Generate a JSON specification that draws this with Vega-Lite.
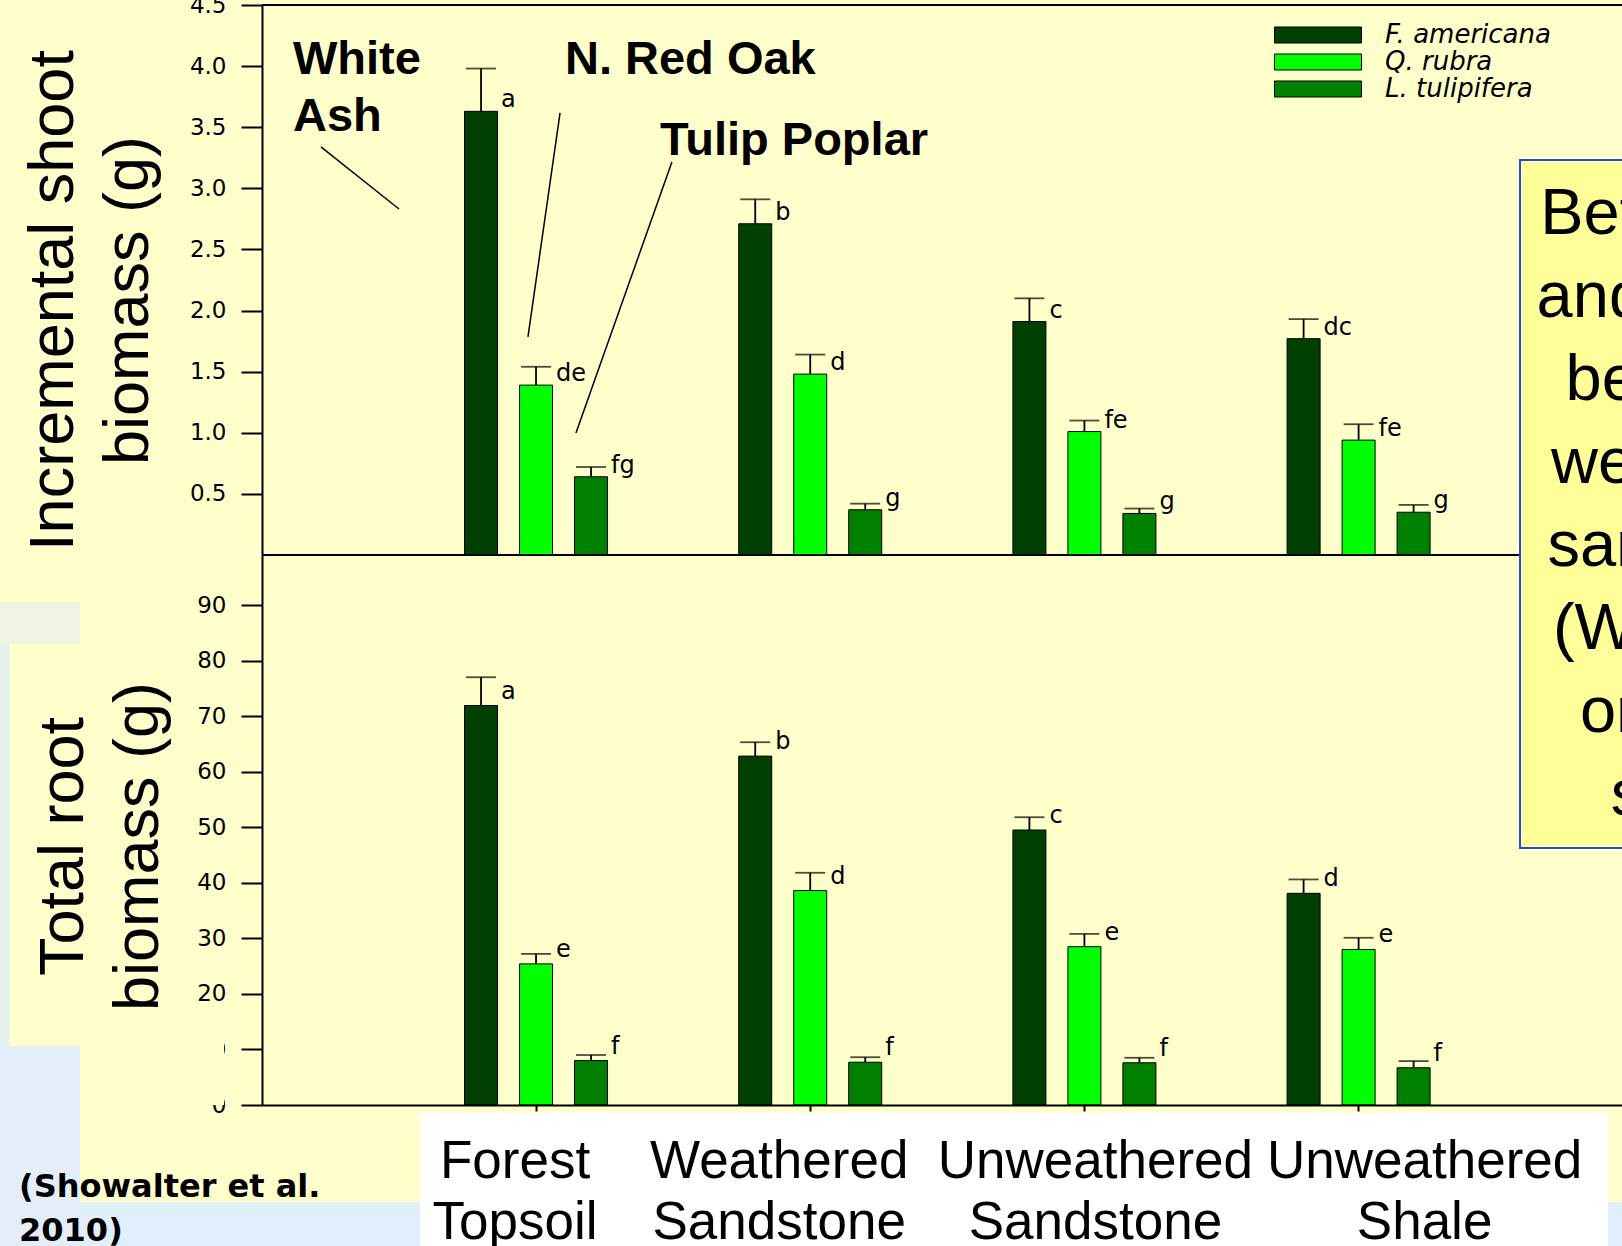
{
  "$schema": "https://vega.github.io/schema/vega-lite/v6.json",
  "autosize": {"type": "none"},
  "width": 1360,
  "height": 1100,
  "padding": {"left": 262, "top": 5, "right": 0, "bottom": 141},
  "background": "#FFFFCC",
  "config": {"view": {"stroke": null}, "font": "Liberation Sans"},
  "resolve": {"scale": {"x": "independent", "y": "independent", "xOffset": "independent"}},
  "layer": [
    {
      "data": {"values": [{}]},
      "layer": [
        {"mark": {"type": "rect", "fill": "#EEF3E2"},
         "encoding": {"x": {"datum": -1.0, "type": "quantitative", "scale": {"domain": [0, 4.96], "nice": false, "zero": false}, "axis": null}, "x2": {"datum": -0.6638},
                      "y": {"datum": 90.53, "type": "quantitative", "scale": {"domain": [0, 198], "nice": false, "zero": false}, "axis": null}, "y2": {"datum": 82.97}}},
        {"mark": {"type": "rect", "fill": "#E8F1EE"},
         "encoding": {"x": {"datum": -1.0, "type": "quantitative", "scale": {"domain": [0, 4.96], "nice": false, "zero": false}, "axis": null}, "x2": {"datum": -0.919},
                      "y": {"datum": 82.97, "type": "quantitative", "scale": {"domain": [0, 198], "nice": false, "zero": false}, "axis": null}, "y2": {"datum": 10.62}}},
        {"mark": {"type": "rect", "fill": "#E3EEF8"},
         "encoding": {"x": {"datum": -1.0, "type": "quantitative", "scale": {"domain": [0, 4.96], "nice": false, "zero": false}, "axis": null}, "x2": {"datum": -0.6638},
                      "y": {"datum": 10.62, "type": "quantitative", "scale": {"domain": [0, 198], "nice": false, "zero": false}, "axis": null}, "y2": {"datum": -30}}},
        {"mark": {"type": "rect", "fill": "#E1EEFC"},
         "encoding": {"x": {"datum": -0.6638, "type": "quantitative", "scale": {"domain": [0, 4.96], "nice": false, "zero": false}, "axis": null}, "x2": {"datum": 5.2},
                      "y": {"datum": -17.46, "type": "quantitative", "scale": {"domain": [0, 198], "nice": false, "zero": false}, "axis": null}, "y2": {"datum": -30}}},
        {"mark": {"type": "rect", "fill": "#FFFFFF"},
         "encoding": {"x": {"datum": 0.5762, "type": "quantitative", "scale": {"domain": [0, 4.96], "nice": false, "zero": false}, "axis": null}, "x2": {"datum": 4.909},
                      "y": {"datum": -1.44, "type": "quantitative", "scale": {"domain": [0, 198], "nice": false, "zero": false}, "axis": null}, "y2": {"datum": -30}}},
        {"mark": {"type": "rect", "fill": "#FFFFCC"},
         "encoding": {"x": {"datum": -0.6638, "type": "quantitative", "scale": {"domain": [0, 4.96], "nice": false, "zero": false}, "axis": null}, "x2": {"datum": -0.1386},
                      "y": {"datum": 17.46, "type": "quantitative", "scale": {"domain": [0, 198], "nice": false, "zero": false}, "axis": null}, "y2": {"datum": 0}}},
        {"mark": {"type": "text", "text": ["(Showalter et al.", "2010)"], "font": "DejaVu Sans", "fontWeight": "bold", "fontSize": 32, "lineHeight": 44, "align": "left", "baseline": "alphabetic", "color": "black"},
         "encoding": {"x": {"datum": -0.886, "type": "quantitative", "scale": {"domain": [0, 4.96], "nice": false, "zero": false}, "axis": null},
                      "y": {"datum": -16.56, "type": "quantitative", "scale": {"domain": [0, 198], "nice": false, "zero": false}, "axis": null}}}
      ]
    },
    {
      "data": {"values": [
        {"soil": "Forest Topsoil", "species": "F. americana", "mean": 3.63, "upper": 3.98, "letter": "a"},
        {"soil": "Forest Topsoil", "species": "Q. rubra", "mean": 1.39, "upper": 1.54, "letter": "de"},
        {"soil": "Forest Topsoil", "species": "L. tulipifera", "mean": 0.64, "upper": 0.72, "letter": "fg"},
        {"soil": "Weathered Sandstone", "species": "F. americana", "mean": 2.71, "upper": 2.91, "letter": "b"},
        {"soil": "Weathered Sandstone", "species": "Q. rubra", "mean": 1.48, "upper": 1.64, "letter": "d"},
        {"soil": "Weathered Sandstone", "species": "L. tulipifera", "mean": 0.37, "upper": 0.42, "letter": "g"},
        {"soil": "Unweathered Sandstone", "species": "F. americana", "mean": 1.91, "upper": 2.10, "letter": "c"},
        {"soil": "Unweathered Sandstone", "species": "Q. rubra", "mean": 1.01, "upper": 1.10, "letter": "fe"},
        {"soil": "Unweathered Sandstone", "species": "L. tulipifera", "mean": 0.34, "upper": 0.38, "letter": "g"},
        {"soil": "Unweathered Shale", "species": "F. americana", "mean": 1.77, "upper": 1.93, "letter": "dc"},
        {"soil": "Unweathered Shale", "species": "Q. rubra", "mean": 0.94, "upper": 1.07, "letter": "fe"},
        {"soil": "Unweathered Shale", "species": "L. tulipifera", "mean": 0.35, "upper": 0.41, "letter": "g"}
      ]},
      "encoding": {
        "x": {"field": "soil", "type": "nominal", "sort": ["Forest Topsoil", "Weathered Sandstone", "Unweathered Sandstone", "Unweathered Shale"],
              "scale": {"paddingInner": 0.0773, "paddingOuter": 0.5187, "align": 0.5187}, "axis": null},
        "xOffset": {"field": "species", "type": "nominal", "sort": ["F. americana", "Q. rubra", "L. tulipifera"], "scale": {"paddingInner": 0.4, "paddingOuter": 1}},
        "y": {"field": "mean", "type": "quantitative", "scale": {"domain": [-4.5, 4.5], "nice": false, "zero": false},
              "axis": {"orient": "left", "values": [0.5, 1, 1.5, 2, 2.5, 3, 3.5, 4, 4.5], "format": ".1f",
                       "domain": true, "domainColor": "black", "domainWidth": 2, "ticks": true, "tickSize": 21, "tickWidth": 2, "tickColor": "black",
                       "labelFont": "DejaVu Sans", "labelFontSize": 23, "labelColor": "black", "labelPadding": 15, "grid": false,
                       "title": ["Incremental shoot", "biomass (g)"], "titleFont": "Liberation Sans", "titleFontSize": 63, "titleFontWeight": "normal",
                       "titleColor": "black", "titleLineHeight": 75, "titleAngle": 270, "titleAlign": "center", "titleBaseline": "alphabetic",
                       "titleX": -190, "titleY": 295, "zindex": 0}}
      },
      "layer": [
        {"mark": {"type": "bar", "stroke": "black", "strokeWidth": 1},
         "encoding": {"color": {"field": "species", "type": "nominal",
                                "scale": {"domain": ["F. americana", "Q. rubra", "L. tulipifera"], "range": ["#004000", "#00FF00", "#008000"]},
                                "legend": {"orient": "none", "legendX": 1043, "legendY": 17, "title": null, "direction": "vertical",
                                           "symbolType": "M-5,-0.92H5V0.92H-5Z", "symbolSize": 303, "symbolStrokeColor": "black", "symbolStrokeWidth": 1, "symbolOpacity": 1,
                                           "labelFont": "DejaVu Sans", "labelFontStyle": "italic", "labelFontSize": 26, "labelColor": "black", "labelOffset": 54,
                                           "rowPadding": 1, "padding": 0, "labelLimit": 0}}}},
        {"mark": {"type": "rule", "color": "black", "strokeWidth": 1.8}, "encoding": {"y2": {"field": "upper"}}},
        {"mark": {"type": "tick", "color": "black", "thickness": 1.8, "size": 30},
         "encoding": {"y": {"field": "upper", "type": "quantitative", "scale": {"domain": [-4.5, 4.5], "nice": false, "zero": false},
              "axis": {"orient": "left", "values": [0.5, 1, 1.5, 2, 2.5, 3, 3.5, 4, 4.5], "format": ".1f",
                       "domain": true, "domainColor": "black", "domainWidth": 2, "ticks": true, "tickSize": 21, "tickWidth": 2, "tickColor": "black",
                       "labelFont": "DejaVu Sans", "labelFontSize": 23, "labelColor": "black", "labelPadding": 15, "grid": false,
                       "title": ["Incremental shoot", "biomass (g)"], "titleFont": "Liberation Sans", "titleFontSize": 63, "titleFontWeight": "normal",
                       "titleColor": "black", "titleLineHeight": 75, "titleAngle": 270, "titleAlign": "center", "titleBaseline": "alphabetic",
                       "titleX": -190, "titleY": 295, "zindex": 0}}}},
        {"mark": {"type": "text", "align": "left", "baseline": "alphabetic", "dx": 20, "dy": -4, "font": "DejaVu Sans", "fontSize": 24, "color": "black"},
         "encoding": {"text": {"field": "letter"}}}
      ]
    },
    {
      "data": {"values": [
        {"soil": "Forest Topsoil", "species": "F. americana", "mean": 71.9, "upper": 77.0, "letter": "a"},
        {"soil": "Forest Topsoil", "species": "Q. rubra", "mean": 25.4, "upper": 27.2, "letter": "e"},
        {"soil": "Forest Topsoil", "species": "L. tulipifera", "mean": 8.0, "upper": 9.0, "letter": "f"},
        {"soil": "Weathered Sandstone", "species": "F. americana", "mean": 62.8, "upper": 65.3, "letter": "b"},
        {"soil": "Weathered Sandstone", "species": "Q. rubra", "mean": 38.6, "upper": 41.8, "letter": "d"},
        {"soil": "Weathered Sandstone", "species": "L. tulipifera", "mean": 7.7, "upper": 8.6, "letter": "f"},
        {"soil": "Unweathered Sandstone", "species": "F. americana", "mean": 49.5, "upper": 51.8, "letter": "c"},
        {"soil": "Unweathered Sandstone", "species": "Q. rubra", "mean": 28.5, "upper": 30.8, "letter": "e"},
        {"soil": "Unweathered Sandstone", "species": "L. tulipifera", "mean": 7.6, "upper": 8.5, "letter": "f"},
        {"soil": "Unweathered Shale", "species": "F. americana", "mean": 38.1, "upper": 40.6, "letter": "d"},
        {"soil": "Unweathered Shale", "species": "Q. rubra", "mean": 28.0, "upper": 30.1, "letter": "e"},
        {"soil": "Unweathered Shale", "species": "L. tulipifera", "mean": 6.7, "upper": 7.9, "letter": "f"}
      ]},
      "encoding": {
        "x": {"field": "soil", "type": "nominal", "sort": ["Forest Topsoil", "Weathered Sandstone", "Unweathered Sandstone", "Unweathered Shale"],
              "scale": {"paddingInner": 0.0773, "paddingOuter": 0.5187, "align": 0.5187},
              "axis": {"orient": "bottom", "title": null, "domain": true, "domainColor": "black", "domainWidth": 2, "ticks": true, "tickSize": 6, "tickWidth": 2, "tickColor": "black",
                       "labelFont": "Liberation Sans", "labelFontSize": 53, "labelLineHeight": 61, "labelColor": "black", "labelPadding": 24, "labelAngle": 0,
                       "labelExpr": "split(datum.label, ' ')", "labelOverlap": false, "labelBound": false, "labelLimit": 0, "labelAlign": "center", "labelBaseline": "top",
                       "labelOffset": {"condition": [{"test": "datum.value === 'Forest Topsoil'", "value": -21}, {"test": "datum.value === 'Weathered Sandstone'", "value": -31}, {"test": "datum.value === 'Unweathered Shale'", "value": 66}], "value": 11},
                       "grid": false, "zindex": 1}},
        "xOffset": {"field": "species", "type": "nominal", "sort": ["F. americana", "Q. rubra", "L. tulipifera"], "scale": {"paddingInner": 0.4, "paddingOuter": 1}},
        "y": {"field": "mean", "type": "quantitative", "scale": {"domain": [0, 198], "nice": false, "zero": false},
              "axis": {"orient": "left", "values": [0, 10, 20, 30, 40, 50, 60, 70, 80, 90], "format": "d",
                       "domain": false, "ticks": true, "tickSize": 21, "tickWidth": 2, "tickColor": "black",
                       "labelFont": "DejaVu Sans", "labelFontSize": 23, "labelColor": "black", "labelPadding": 15, "grid": false,
                       "title": ["Total root", "biomass (g)"], "titleFont": "Liberation Sans", "titleFontSize": 63, "titleFontWeight": "normal",
                       "titleColor": "black", "titleLineHeight": 75, "titleAngle": 270, "titleAlign": "center", "titleBaseline": "alphabetic",
                       "titleX": -180, "titleY": 841, "zindex": 0}}
      },
      "layer": [
        {"mark": {"type": "bar", "stroke": "black", "strokeWidth": 1},
         "encoding": {"color": {"field": "species", "type": "nominal",
                                "scale": {"domain": ["F. americana", "Q. rubra", "L. tulipifera"], "range": ["#004000", "#00FF00", "#008000"]},
                                "legend": {"orient": "none", "legendX": 1043, "legendY": 17, "title": null, "direction": "vertical",
                                           "symbolType": "M-5,-0.92H5V0.92H-5Z", "symbolSize": 303, "symbolStrokeColor": "black", "symbolStrokeWidth": 1, "symbolOpacity": 1,
                                           "labelFont": "DejaVu Sans", "labelFontStyle": "italic", "labelFontSize": 26, "labelColor": "black", "labelOffset": 54,
                                           "rowPadding": 1, "padding": 0, "labelLimit": 0}}}},
        {"mark": {"type": "rule", "color": "black", "strokeWidth": 1.8}, "encoding": {"y2": {"field": "upper"}}},
        {"mark": {"type": "tick", "color": "black", "thickness": 1.8, "size": 30},
         "encoding": {"y": {"field": "upper", "type": "quantitative", "scale": {"domain": [0, 198], "nice": false, "zero": false},
              "axis": {"orient": "left", "values": [0, 10, 20, 30, 40, 50, 60, 70, 80, 90], "format": "d",
                       "domain": false, "ticks": true, "tickSize": 21, "tickWidth": 2, "tickColor": "black",
                       "labelFont": "DejaVu Sans", "labelFontSize": 23, "labelColor": "black", "labelPadding": 15, "grid": false,
                       "title": ["Total root", "biomass (g)"], "titleFont": "Liberation Sans", "titleFontSize": 63, "titleFontWeight": "normal",
                       "titleColor": "black", "titleLineHeight": 75, "titleAngle": 270, "titleAlign": "center", "titleBaseline": "alphabetic",
                       "titleX": -180, "titleY": 841, "zindex": 0}}}},
        {"mark": {"type": "text", "align": "left", "baseline": "alphabetic", "dx": 20, "dy": -7, "font": "DejaVu Sans", "fontSize": 24, "color": "black"},
         "encoding": {"text": {"field": "letter"}}}
      ]
    },
    {
      "data": {"values": [{}]},
      "layer": [
        {"mark": {"type": "rule", "color": "black", "strokeWidth": 2},
         "encoding": {"y": {"datum": 4.5, "type": "quantitative", "scale": {"domain": [-4.5, 4.5], "nice": false, "zero": false}, "axis": null}}},
        {"mark": {"type": "rule", "color": "black", "strokeWidth": 2},
         "encoding": {"y": {"datum": 0, "type": "quantitative", "scale": {"domain": [-4.5, 4.5], "nice": false, "zero": false}, "axis": null}}},
        {"mark": {"type": "text", "text": ["White", "Ash"], "font": "Liberation Sans", "fontWeight": "bold", "fontSize": 47, "lineHeight": 57, "align": "left", "baseline": "alphabetic", "color": "black"},
         "encoding": {"x": {"datum": 0.113, "type": "quantitative", "scale": {"domain": [0, 4.96], "nice": false, "zero": false}, "axis": null},
                      "y": {"datum": 3.932, "type": "quantitative", "scale": {"domain": [-4.5, 4.5], "nice": false, "zero": false}, "axis": null}}},
        {"mark": {"type": "text", "text": "N. Red Oak", "font": "Liberation Sans", "fontWeight": "bold", "fontSize": 47, "align": "left", "baseline": "alphabetic", "color": "black"},
         "encoding": {"x": {"datum": 1.105, "type": "quantitative", "scale": {"domain": [0, 4.96], "nice": false, "zero": false}, "axis": null},
                      "y": {"datum": 3.932, "type": "quantitative", "scale": {"domain": [-4.5, 4.5], "nice": false, "zero": false}, "axis": null}}},
        {"mark": {"type": "text", "text": "Tulip Poplar", "font": "Liberation Sans", "fontWeight": "bold", "fontSize": 47, "align": "left", "baseline": "alphabetic", "color": "black"},
         "encoding": {"x": {"datum": 1.4515, "type": "quantitative", "scale": {"domain": [0, 4.96], "nice": false, "zero": false}, "axis": null},
                      "y": {"datum": 3.273, "type": "quantitative", "scale": {"domain": [-4.5, 4.5], "nice": false, "zero": false}, "axis": null}}},
        {"mark": {"type": "rule", "color": "black", "strokeWidth": 1.5},
         "encoding": {"x": {"datum": 0.215, "type": "quantitative", "scale": {"domain": [0, 4.96], "nice": false, "zero": false}, "axis": null}, "x2": {"datum": 0.4996},
                      "y": {"datum": 3.339, "type": "quantitative", "scale": {"domain": [-4.5, 4.5], "nice": false, "zero": false}, "axis": null}, "y2": {"datum": 2.831}}},
        {"mark": {"type": "rule", "color": "black", "strokeWidth": 1.5},
         "encoding": {"x": {"datum": 1.087, "type": "quantitative", "scale": {"domain": [0, 4.96], "nice": false, "zero": false}, "axis": null}, "x2": {"datum": 0.970},
                      "y": {"datum": 3.617, "type": "quantitative", "scale": {"domain": [-4.5, 4.5], "nice": false, "zero": false}, "axis": null}, "y2": {"datum": 1.784}}},
        {"mark": {"type": "rule", "color": "black", "strokeWidth": 1.5},
         "encoding": {"x": {"datum": 1.495, "type": "quantitative", "scale": {"domain": [0, 4.96], "nice": false, "zero": false}, "axis": null}, "x2": {"datum": 1.145},
                      "y": {"datum": 3.216, "type": "quantitative", "scale": {"domain": [-4.5, 4.5], "nice": false, "zero": false}, "axis": null}, "y2": {"datum": 0.998}}},
        {"mark": {"type": "rect", "fill": "#FFFF99", "stroke": "#2A45F0", "strokeWidth": 2},
         "encoding": {"x": {"datum": 4.588, "type": "quantitative", "scale": {"domain": [0, 4.96], "nice": false, "zero": false}, "axis": null}, "x2": {"datum": 5.3},
                      "y": {"datum": 3.232, "type": "quantitative", "scale": {"domain": [-4.5, 4.5], "nice": false, "zero": false}, "axis": null}, "y2": {"datum": -2.398}}},
        {"mark": {"type": "text", "text": ["Better", "and to", "best", "weak", "same", "(WS)", "ore", "s"], "font": "Liberation Sans", "fontSize": 65, "lineHeight": 83, "align": "center", "baseline": "middle", "color": "black"},
         "encoding": {"x": {"datum": 4.978, "type": "quantitative", "scale": {"domain": [0, 4.96], "nice": false, "zero": false}, "axis": null},
                      "y": {"datum": 2.790, "type": "quantitative", "scale": {"domain": [-4.5, 4.5], "nice": false, "zero": false}, "axis": null}}}
      ]
    }
  ]
}
